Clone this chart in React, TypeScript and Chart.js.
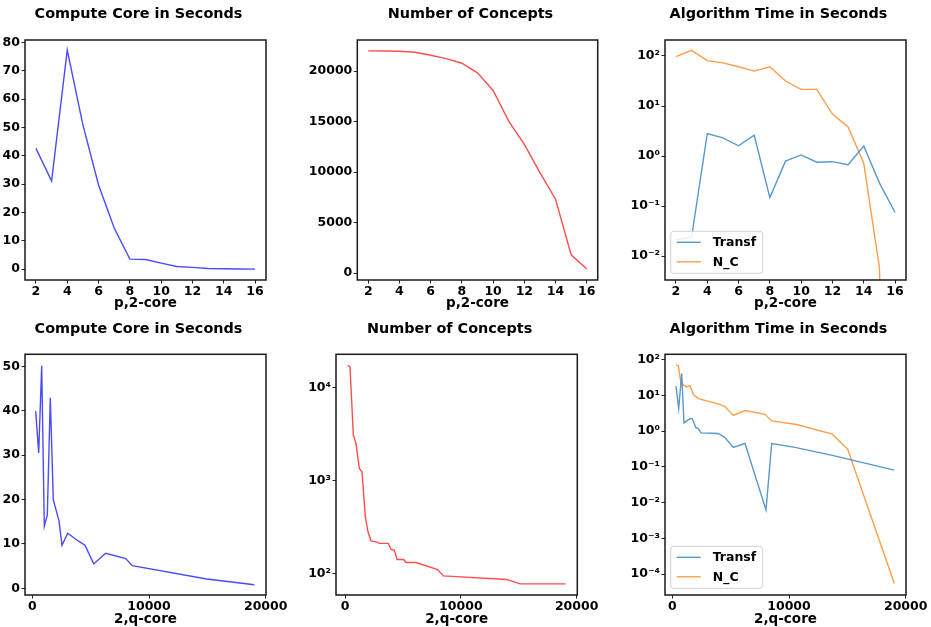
import React, { useEffect, useRef } from "react";
import { Chart, registerables } from "chart.js";

Chart.register(...registerables);

const FONT = '"DejaVu Sans", "Liberation Sans", sans-serif';
const TITLE_SIZE = 14.4;
const TICK_SIZE = 12.5;
const XLABEL_SIZE = 13.5;
const TITLE_SHIFT = 7;

// ---------- Row 1 : p,2-core ----------
const pCore = [2, 3, 4, 5, 6, 7, 8, 9, 10, 11, 12, 13, 14, 15, 16];
const computeCoreP = [42.6, 31.1, 77.3, 50.9, 29.7, 14.5, 3.5, 3.4, 2.1, 0.9, 0.6, 0.2, 0.1, 0.05, 0.0];
const conceptsP = [22010, 21995, 21977, 21878, 21582, 21252, 20790, 19835, 18089, 15058, 12751, 9951, 7315, 1812, 395];
const transfP = [0.021, 0.024, 2.8, 2.3, 1.6, 2.6, 0.147, 0.79, 1.05, 0.75, 0.77, 0.67, 1.58, 0.29, 0.074];
// last value is effectively zero (drops off the log axis)
const ncP = [97, 130, 81, 73, 61, 50, 61, 31.6, 21.5, 21.5, 6.9, 3.8, 0.72, 0.0059, 1e-12];

const pTicks = [2, 4, 6, 8, 10, 12, 14, 16];
const computeTicksP = [0, 10, 20, 30, 40, 50, 60, 70, 80];
const conceptTicksP = [0, 5000, 10000, 15000, 20000];
const algoTicksP = [100, 10, 1, 0.1, 0.01];

// ---------- Row 2 : 2,q-core ----------
const qCompute = [291, 548, 806, 1029, 1286, 1543, 1800, 2288, 2545, 3034, 4029, 4517, 5262, 6290, 8003, 8569, 14944, 19023];
const computeCoreQ = [39.9, 30.5, 50.1, 14.0, 16.5, 42.9, 19.9, 15.2, 9.7, 12.4, 10.5, 9.7, 5.5, 7.9, 6.7, 5.1, 2.1, 0.8];

const qConcepts = [230, 432, 719, 950, 1237, 1468, 1756, 1985, 2245, 2734, 3022, 3742, 3972, 4260, 4490, 5070, 5268, 6130, 8003, 8486, 13960, 15110, 19050];
const conceptsQ = [17400, 16700, 3070, 2500, 1350, 1240, 405, 280, 224, 217, 210, 210, 181, 178, 141, 141, 131, 131, 110, 94, 86, 77, 77];

const qTransf = [317, 548, 806, 1003, 1234, 1517, 1714, 2005, 2228, 2460, 3942, 4516, 5227, 6230, 8029, 8517, 10514, 13710, 19023];
const transfQ = [18.3, 4.3, 41, 1.7, 1.93, 2.24, 2.24, 1.26, 1.17, 0.89, 0.86, 0.66, 0.35, 0.45, 0.0062, 0.45, 0.35, 0.21, 0.081];

const qNC = [317, 514, 746, 1234, 1517, 1800, 2228, 4087, 4516, 5227, 6230, 7943, 8517, 10660, 13710, 15030, 19023];
const ncQ = [70, 68, 21.5, 17.2, 18.6, 10.7, 8.1, 5.6, 4.8, 2.75, 3.76, 2.95, 1.93, 1.53, 0.82, 0.31, 0.000055];

const qTicks = [0, 10000, 20000];
const computeTicksQ = [0, 10, 20, 30, 40, 50];
const conceptTicksQ = [10000, 1000, 100];
const algoTicksQ = [100, 10, 1, 0.1, 0.01, 0.001, 0.0001];

const BLUE = "#4a4aff";
const RED = "#ff4d4d";
const TAB_BLUE = "#5898cc";
const TAB_ORANGE = "#ff9d4a";

const SUP: Record<string, string> = {
  "-": "\u207B", "0": "\u2070", "1": "\u00B9", "2": "\u00B2", "3": "\u00B3",
  "4": "\u2074", "5": "\u2075", "6": "\u2076", "7": "\u2077", "8": "\u2078", "9": "\u2079",
};
function logLabel(v: number): string {
  const e = Math.round(Math.log10(v));
  return "10" + String(e).split("").map((c) => SUP[c]).join("");
}

type Series = { label: string; xs: number[]; ys: number[]; color: string };
type Panel = {
  key: string;
  cx: number; cy: number; cw: number; ch: number;
  L: number; T: number; R: number; B: number;
  titleCY: number; xTitleCY: number;
  title: string; xLabel: string;
  yType: "linear" | "logarithmic";
  xMin: number; xMax: number; yMin: number; yMax: number;
  xTicks: number[]; yTicks: number[];
  series: Series[];
  legend?: boolean;
};

// centre the title over the plot area, nudged left like the original
const titlePlacePlugin = {
  id: "titlePlace",
  afterLayout(chart: any) {
    const tb = chart.titleBlock;
    const a = chart.chartArea;
    if (!tb || !a) return;
    tb.left = a.left - TITLE_SHIFT;
    tb.right = a.right - TITLE_SHIFT;
    tb.width = tb.right - tb.left;
  },
};

const framePlugin = {
  id: "frame",
  afterDraw(chart: any) {
    const { ctx, chartArea: a } = chart;
    ctx.save();
    ctx.strokeStyle = "#1a1a1a";
    ctx.lineWidth = 1.5;
    ctx.strokeRect(a.left, a.top, a.right - a.left, a.bottom - a.top);
    ctx.restore();
  },
};

const innerLegendPlugin = {
  id: "innerLegend",
  afterDraw(chart: any, _args: any, opts: any) {
    if (!opts || !opts.show) return;
    const { ctx, chartArea: a } = chart;
    const w = 92, h = 42, r = 3;
    const x0 = a.left + 5.7;
    const y0 = a.bottom - 6.7 - h;
    ctx.save();
    ctx.beginPath();
    ctx.moveTo(x0 + r, y0);
    ctx.arcTo(x0 + w, y0, x0 + w, y0 + h, r);
    ctx.arcTo(x0 + w, y0 + h, x0, y0 + h, r);
    ctx.arcTo(x0, y0 + h, x0, y0, r);
    ctx.arcTo(x0, y0, x0 + w, y0, r);
    ctx.closePath();
    ctx.fillStyle = "rgba(255,255,255,0.85)";
    ctx.fill();
    ctx.strokeStyle = "#cfcfcf";
    ctx.lineWidth = 1;
    ctx.stroke();
    ctx.font = `bold 12.5px ${FONT}`;
    ctx.textBaseline = "middle";
    ctx.textAlign = "left";
    chart.data.datasets.forEach((ds: any, i: number) => {
      const yy = y0 + 11 + i * 19.5;
      ctx.beginPath();
      ctx.strokeStyle = ds.borderColor;
      ctx.lineWidth = 1.4;
      ctx.moveTo(x0 + 6, yy);
      ctx.lineTo(x0 + 30, yy);
      ctx.stroke();
      ctx.fillStyle = "#000";
      ctx.fillText(ds.label, x0 + 42, yy + 0.5);
    });
    ctx.restore();
  },
};

function buildConfig(p: Panel): any {
  const lh = TITLE_SIZE * 1.2;
  const xlh = XLABEL_SIZE * 1.2;
  const Lc = p.L - p.cx, Rc = p.R - p.cx, Tc = p.T - p.cy, Bc = p.B - p.cy;
  const yW = Lc;
  const pr = p.cw - Rc;
  const titlePadTop = p.titleCY - p.cy - lh / 2;
  const titlePadBottom = Tc - lh - titlePadTop;
  const xH = p.ch - Bc;
  const xTitlePadBottom = p.ch - (p.xTitleCY - p.cy) - xlh / 2;
  const tickFont = { family: FONT, size: TICK_SIZE, weight: "bold" as const };
  const gridOpts = {
    display: true,
    drawOnChartArea: false,
    drawTicks: true,
    tickLength: 3.5,
    color: "#222",
    tickWidth: 1,
  };
  return {
    type: "line",
    data: {
      datasets: p.series.map((s) => ({
        label: s.label,
        data: s.xs.map((x, i) => ({ x, y: s.ys[i] })),
        borderColor: s.color,
        backgroundColor: s.color,
        borderWidth: 1.4,
        pointRadius: 0,
        pointHoverRadius: 0,
        tension: 0,
        fill: false,
      })),
    },
    options: {
      animation: false,
      responsive: false,
      maintainAspectRatio: false,
      devicePixelRatio: 1,
      events: [],
      layout: { padding: { left: 0, right: pr, top: 0, bottom: 0 } },
      plugins: {
        legend: { display: false },
        tooltip: { enabled: false },
        title: {
          display: true,
          text: p.title,
          color: "#000",
          font: { family: FONT, size: TITLE_SIZE, weight: "bold", lineHeight: 1.2 },
          padding: { top: titlePadTop, bottom: titlePadBottom },
        },
        innerLegend: { show: !!p.legend },
      },
      scales: {
        x: {
          type: "linear",
          min: p.xMin,
          max: p.xMax,
          afterFit: (s: any) => { s.height = xH; },
          afterBuildTicks: (s: any) => { s.ticks = p.xTicks.map((v) => ({ value: v })); },
          grid: gridOpts,
          border: { display: false },
          ticks: {
            autoSkip: false,
            maxRotation: 0,
            minRotation: 0,
            padding: 0.5,
            color: "#000",
            font: tickFont,
            callback: (v: any) => String(v),
          },
          title: {
            display: true,
            text: p.xLabel,
            color: "#000",
            font: { family: FONT, size: XLABEL_SIZE, weight: "bold", lineHeight: 1.2 },
            padding: { top: 0, bottom: xTitlePadBottom },
          },
        },
        y: {
          type: p.yType,
          min: p.yMin,
          max: p.yMax,
          afterFit: (s: any) => { s.width = yW; },
          afterBuildTicks: (s: any) => { s.ticks = p.yTicks.map((v) => ({ value: v, major: true })); },
          grid: gridOpts,
          border: { display: false },
          ticks: {
            autoSkip: false,
            padding: 1.5,
            color: "#000",
            font: tickFont,
            callback: (v: any) => (p.yType === "logarithmic" ? logLabel(Number(v)) : String(v)),
          },
        },
      },
    },
    plugins: [titlePlacePlugin, framePlugin, innerLegendPlugin],
  };
}

const ROW1 = { cy: 0, ch: 320, T: 40, B: 280, titleCY: 14, xTitleCY: 303.3 };
const ROW2 = { cy: 310, ch: 320, T: 354.3, B: 595, titleCY: 329, xTitleCY: 619.3 };
const COL1 = { cx: 0, cw: 300 };
const COL2 = { cx: 300, cw: 320 };
const COL3 = { cx: 620, cw: 311 };

const panels: Panel[] = [
  {
    key: "p-compute", ...ROW1, ...COL1, L: 25, R: 266,
    title: "Compute Core in Seconds", xLabel: "p,2-core", yType: "linear",
    xMin: 1.3, xMax: 16.7, yMin: -3.85, yMax: 80.85, xTicks: pTicks, yTicks: computeTicksP,
    series: [{ label: "compute", xs: pCore, ys: computeCoreP, color: BLUE }],
  },
  {
    key: "p-concepts", ...ROW1, ...COL2, L: 357.3, R: 597.7,
    title: "Number of Concepts", xLabel: "p,2-core", yType: "linear",
    xMin: 1.3, xMax: 16.7, yMin: -686, yMax: 23091, xTicks: pTicks, yTicks: conceptTicksP,
    series: [{ label: "concepts", xs: pCore, ys: conceptsP, color: RED }],
  },
  {
    key: "p-algo", ...ROW1, ...COL3, L: 665, R: 906,
    title: "Algorithm Time in Seconds", xLabel: "p,2-core", yType: "logarithmic",
    xMin: 1.3, xMax: 16.7, yMin: Math.pow(10, -2.48), yMax: Math.pow(10, 2.32), xTicks: pTicks, yTicks: algoTicksP,
    series: [
      { label: "Transf", xs: pCore, ys: transfP, color: TAB_BLUE },
      { label: "N_C", xs: pCore, ys: ncP, color: TAB_ORANGE },
    ],
    legend: true,
  },
  {
    key: "q-compute", ...ROW2, ...COL1, L: 25, R: 266,
    title: "Compute Core in Seconds", xLabel: "2,q-core", yType: "linear",
    xMin: -625, xMax: 20025, yMin: -1.5, yMax: 52.7, xTicks: qTicks, yTicks: computeTicksQ,
    series: [{ label: "compute", xs: qCompute, ys: computeCoreQ, color: BLUE }],
  },
  {
    key: "q-concepts", ...ROW2, ...COL2, L: 336, R: 577.3,
    title: "Number of Concepts", xLabel: "2,q-core", yType: "logarithmic",
    xMin: -777, xMax: 20055, yMin: Math.pow(10, 1.767), yMax: Math.pow(10, 4.358), xTicks: qTicks, yTicks: conceptTicksQ,
    series: [{ label: "concepts", xs: qConcepts, ys: conceptsQ, color: RED }],
  },
  {
    key: "q-algo", ...ROW2, ...COL3, L: 665, R: 906,
    title: "Algorithm Time in Seconds", xLabel: "2,q-core", yType: "logarithmic",
    xMin: -625, xMax: 20025, yMin: Math.pow(10, -4.584), yMax: Math.pow(10, 2.148), xTicks: qTicks, yTicks: algoTicksQ,
    series: [
      { label: "Transf", xs: qTransf, ys: transfQ, color: TAB_BLUE },
      { label: "N_C", xs: qNC, ys: ncQ, color: TAB_ORANGE },
    ],
    legend: true,
  },
];

function PanelChart({ p }: { p: Panel }) {
  const ref = useRef<HTMLCanvasElement | null>(null);
  useEffect(() => {
    if (!ref.current) return;
    const chart = new Chart(ref.current, buildConfig(p));
    return () => chart.destroy();
  }, [p]);
  return (
    <canvas
      ref={ref}
      width={p.cw}
      height={p.ch}
      style={{ position: "absolute", left: p.cx, top: p.cy, width: p.cw, height: p.ch }}
    />
  );
}

export default function App() {
  return (
    <div
      style={{
        position: "absolute",
        left: 0,
        top: 0,
        width: 931,
        height: 627,
        overflow: "hidden",
        background: "#fff",
      }}
    >
      {panels.map((p) => (
        <PanelChart key={p.key} p={p} />
      ))}
    </div>
  );
}
